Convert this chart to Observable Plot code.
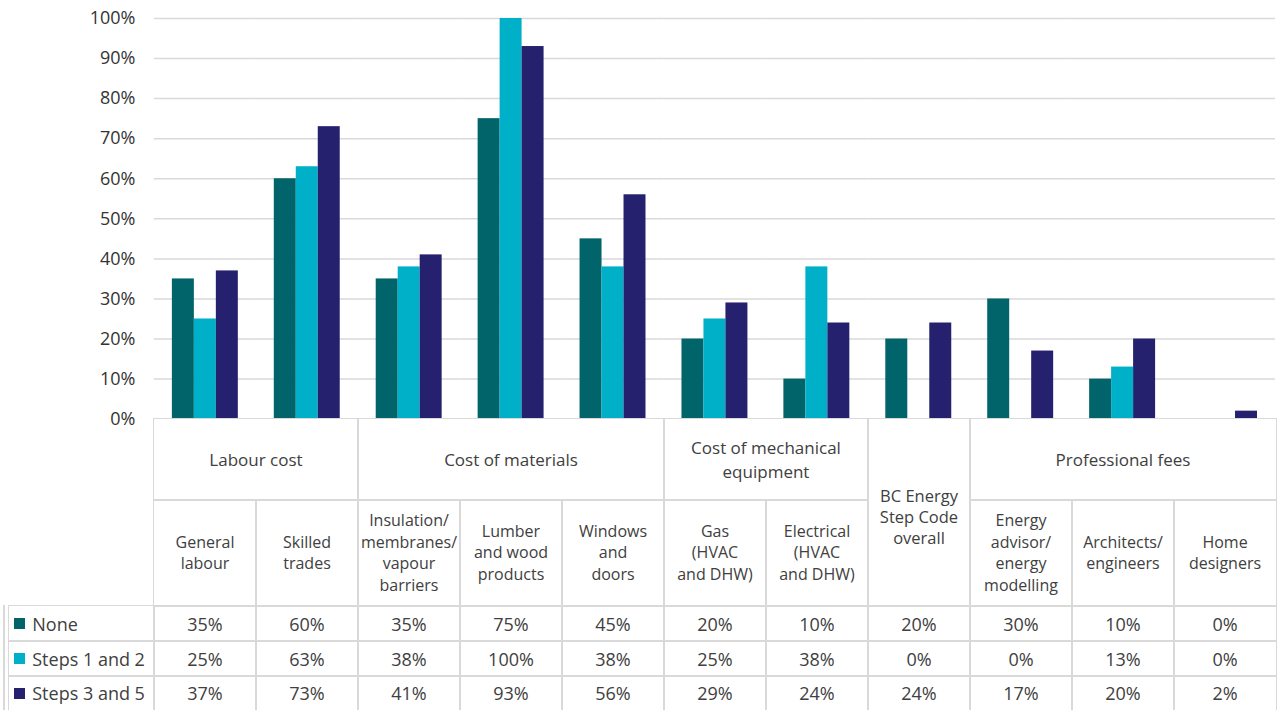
<!DOCTYPE html>
<html><head><meta charset="utf-8">
<script src="https://cdn.jsdelivr.net/npm/d3@7"></script>
<script src="https://cdn.jsdelivr.net/npm/@observablehq/plot@0.6"></script>
<style>
body{margin:0;background:#fff;font-family:"Open Sans",sans-serif;color:#404040}
#wrap{position:relative;width:1278px;height:710px;overflow:hidden;background:#fff}
#wrap svg{position:absolute;left:0;top:0}
.cell{position:absolute;box-sizing:border-box;border:1.5px solid #d9d9d9;display:flex;align-items:center;justify-content:center;text-align:center;white-space:pre-line;color:#404040}
.hdr{font-size:17px;line-height:24px}
.sub{font-size:16px;line-height:21.5px}
.bc{font-size:16.5px;line-height:21px;padding-top:8px}
.val{font-size:18px}
.leg{justify-content:flex-start;font-size:18px;padding-left:5px}
.sw{display:inline-block;width:11px;height:11px;margin-right:7px}
.vline{position:absolute;width:1.5px;background:#d9d9d9}
</style></head><body><div id="wrap"></div>
<script>
const categories = ["General labour","Skilled trades","Insulation/ membranes/ vapour barriers","Lumber and wood products","Windows and doors","Gas (HVAC and DHW)","Electrical (HVAC and DHW)","BC Energy Step Code overall","Energy advisor/ energy modelling","Architects/ engineers","Home designers"];
const subLabels = ["General\nlabour","Skilled\ntrades","Insulation/\nmembranes/\nvapour\nbarriers","Lumber\nand wood\nproducts","Windows\nand\ndoors","Gas\n(HVAC\nand DHW)","Electrical\n(HVAC\nand DHW)","BC Energy\nStep Code\noverall","Energy\nadvisor/\nenergy\nmodelling","Architects/\nengineers","Home\ndesigners"];
const series = ["None","Steps 1 and 2","Steps 3 and 5"];
const colors = ["#00646a","#00afc8","#25216f"];
const noneValues = [35,60,35,75,45,20,10,20,30,10,0];
const steps12Values = [25,63,38,100,38,25,38,0,0,13,0];
const steps35Values = [37,73,41,93,56,29,24,24,17,20,2];
const groupNames = ["Labour cost","Cost of materials","Cost of mechanical equipment","BC Energy\nStep Code\noverall","Professional fees"];
const groupSpans = [2,3,2,1,3];
const groupRowSpans = [1,1,1,2,1];
const yTicks = [0,10,20,30,40,50,60,70,80,90,100];

const seriesValues = [noneValues, steps12Values, steps35Values];
const rows = [];
series.forEach((s, i) => categories.forEach((c, j) => rows.push({category: c, series: s, value: seriesValues[i][j]})));

const chart = Plot.plot({
  width: 1279, height: 430,
  marginLeft: 151, marginRight: 0, marginTop: 18, marginBottom: 11,
  style: {fontFamily: "Open Sans", fontSize: "18px", color: "#333", background: "transparent", overflow: "visible"},
  fx: {domain: categories, padding: 0, axis: null, label: null},
  x: {domain: series, paddingInner: 0, paddingOuter: 0.81, axis: null},
  y: {domain: [0, 100], axis: null},
  color: {domain: series, range: colors},
  marks: [
    Plot.gridY(yTicks.filter(d => d > 0), {stroke: "#d9d9d9", strokeOpacity: 1, strokeWidth: 1.5}),
    Plot.barY(rows, {fx: "category", x: "series", y: "value", fill: "series"}),
    Plot.axisY(yTicks, {tickSize: 0, tickPadding: 19, tickFormat: d => d + "%", fill: "#333", label: null})
  ]
});
const wrap = document.getElementById("wrap");
wrap.appendChild(chart);

const fxs = chart.scale("fx");
const ys = chart.scale("y");
const colLeft = c => fxs.apply(c);
const colW = fxs.bandwidth;
const bwid = 1.5;
const tableTop = ys.apply(0);
const rowH = [81, 106, 35, 35, 34];
const rowTop = [tableTop];
rowH.forEach((h, i) => rowTop.push(rowTop[i] + h));
const legendLeft = 9;

function cell(x, y, w, h, content, cls) {
  const d = document.createElement("div");
  d.className = "cell " + cls;
  d.style.left = (x - bwid / 2) + "px";
  d.style.top = (y - bwid / 2) + "px";
  d.style.width = (w + bwid) + "px";
  d.style.height = (h + bwid) + "px";
  if (typeof content === "string") d.textContent = content; else d.appendChild(content);
  wrap.appendChild(d);
  return d;
}

// group header row
let idx = 0;
groupNames.forEach((g, gi) => {
  const span = groupSpans[gi];
  const rs = groupRowSpans[gi];
  const h = rs === 2 ? rowH[0] + rowH[1] : rowH[0];
  cell(colLeft(categories[idx]), rowTop[0], colW * span, h, g, rs === 2 ? "bc" : "hdr");
  idx += span;
});
// sub-label row
idx = 0;
groupNames.forEach((g, gi) => {
  for (let k = 0; k < groupSpans[gi]; k++) {
    if (groupRowSpans[gi] === 1) cell(colLeft(categories[idx]), rowTop[1], colW, rowH[1], subLabels[idx], "sub");
    idx++;
  }
});
// data rows with legend keys
series.forEach((s, i) => {
  const y0 = rowTop[2 + i], h = rowH[2 + i];
  const frag = document.createElement("span");
  frag.style.display = "flex"; frag.style.alignItems = "center";
  const sw = document.createElement("span");
  sw.className = "sw"; sw.style.background = colors[i];
  frag.appendChild(sw);
  frag.appendChild(document.createTextNode(s));
  cell(legendLeft, y0, colLeft(categories[0]) - legendLeft, h, frag, "leg");
  categories.forEach((c, j) => cell(colLeft(c), y0, colW, h, seriesValues[i][j] + "%", "val"));
});
// outer double edge of the legend column
const vl = document.createElement("div");
vl.className = "vline";
vl.style.left = "3px";
vl.style.top = (rowTop[2] - bwid / 2) + "px";
vl.style.height = (rowTop[5] - rowTop[2] + bwid) + "px";
wrap.appendChild(vl);
</script>
</body></html>
